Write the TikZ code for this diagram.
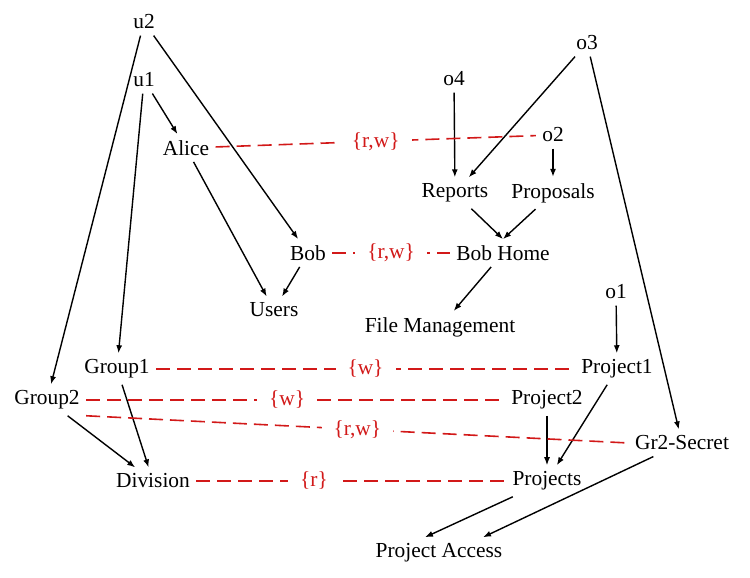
\documentclass[tikz,border=0pt]{standalone}
\usepackage{fontspec}
\setmainfont{Liberation Serif}
\usetikzlibrary{arrows.meta}
\definecolor{permred}{RGB}{210,25,25}
\tikzset{
  every node/.style={font=\fontsize{10.7}{12}\selectfont, inner sep=3pt},
  arr/.style={-{Latex[length=4pt,width=3pt]}, line width=0.7pt},
  perm/.style={permred, dash pattern=on 7pt off 3.5pt, line width=0.8pt},
  lbl/.style={permred, fill=white, inner xsep=6pt, inner ysep=2pt}
}
\begin{document}
\begin{tikzpicture}[x=0.5pt,y=-0.5pt]
      \useasboundingbox (0,0) rectangle (750,578);
      \draw
        (144,22) node (u2){u2}
        (144,80) node (u1){u1}
        (186,148) node (alice){Alice}
        (308,253) node (bob){Bob}
        (274,310) node (users){Users}
        (454,79) node (o4){o4}
        (587,43) node (o3){o3}
        (553,135) node (o2){o2}
        (455,193) node (reports){Reports}
        (553,193) node (proposals){Proposals}
        (503,253) node (bobhome){Bob Home}
        (440,327) node (filemgmt){File Management}
        (616,292) node (o1){o1}
        (117,369) node (group1){Group1}
        (617,369) node (project1){Project1}
        (47,400) node (group2){Group2}
        (547,400) node (project2){Project2}
        (682,443) node (secret){Gr2-Secret}
        (153,481) node (division){Division}
        (547,481) node (projects){Projects}
        (439,553) node (access){Project Access};
      \begin{scope}[arr]
        \draw (u2) to (group2);
        \draw (u2) to (bob);
        \draw (u1) to (alice);
        \draw (u1) to (group1);
        \draw (alice) to (users);
        \draw (bob) to (users);
        \draw (o4) to (reports);
        \draw (o3) to (reports);
        \draw (o3) to (secret);
        \draw (o2) to (proposals);
        \draw (reports) to (bobhome.north);
        \draw (proposals) to (bobhome.north);
        \draw (bobhome) to (filemgmt);
        \draw (o1) to (project1);
        \draw (project1) to (projects);
        \draw (project2) to (projects);
        \draw (group1) to (division);
        \draw (group2) to (division);
        \draw (projects) to ([xshift=-7pt]access.north);
        \draw (secret) to ([xshift=22pt]access.north);
      \end{scope}
      % permissions
      \begin{scope}[perm]
        \draw (alice) to node[lbl] (l1){\{r,w\}} (o2);
        \draw (bob) to node[lbl] (l2){\{r,w\}} (bobhome);
        \draw (group1) to node[lbl] (l3){\{w\}} (project1);
        \draw (group2) to node[lbl,pos=0.48] (l4){\{w\}} (project2);
        \draw (group2.south east) to node[lbl,pos=0.5] (l5){\{r,w\}} (secret.west);
        \draw (division) to node[lbl,pos=0.38] (l6){\{r\}} (projects);
      \end{scope}
    \end{tikzpicture}
\end{document}
